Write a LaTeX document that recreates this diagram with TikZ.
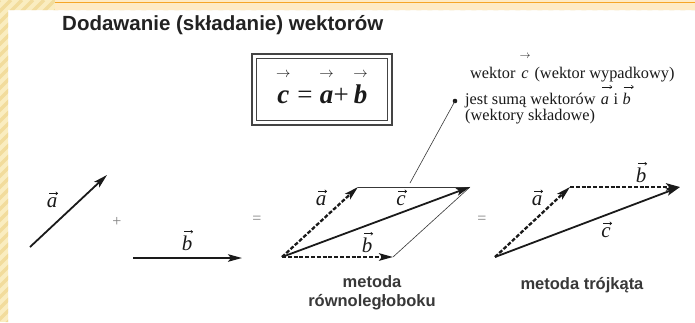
\documentclass[tikz,border=0pt]{standalone}
\usepackage{amsmath}
\usepackage{fontspec}
\setmainfont{Liberation Serif}
\newfontfamily\sansfam{Liberation Sans}
\usetikzlibrary{arrows.meta}
\definecolor{bgyel}{HTML}{FAEDC0}
\definecolor{stripecol}{HTML}{F2DC9C}
\definecolor{topband}{HTML}{FEEBC6}
\definecolor{orangeline}{HTML}{F6A628}
\definecolor{ink}{HTML}{1A1A1A}
\definecolor{framecol}{HTML}{444444}
\definecolor{titlecol}{HTML}{222222}
\definecolor{capcol}{HTML}{383838}
\definecolor{signcol}{HTML}{808080}
\newcommand\ovec[3]{\ensuremath{\overset{\raisebox{#2}{$#3\rightarrow$}}{\vphantom{\mbox{b}}\mbox{#1}}}}
\tikzset{
  vecline/.style={ink, line width=1.8pt, -{Stealth[length=14pt,width=7.5pt,inset=3pt]}},
  dashvec/.style={vecline, line width=2.3pt, dash pattern=on 4pt off 1.8pt},
  thinline/.style={draw=capcol, line width=0.6pt},
  veclabel/.style={inner sep=0pt, anchor=base, text=ink, font=\fontsize{21}{24}\selectfont\itshape},
  labarrow/.style={draw=ink, line width=0.6pt, -{To[length=2.4pt,width=3.6pt]}},
  txtarrow/.style={draw=ink, line width=0.55pt, -{To[length=2.6pt,width=4pt]}},
  signlabel/.style={inner sep=0pt, text=signcol, font=\fontsize{16}{18}\selectfont},
  caption/.style={inner sep=0pt, text=capcol, font=\sansfam\bfseries\fontsize{16.5}{19}\selectfont},
  blocktext/.style={inner sep=0pt, anchor=base west, text=ink, font=\fontsize{16.3}{18}\selectfont}
}
% vector label: name, position of baseline, letter
\newcommand\labvec[3]{%
  \node[veclabel] (#1) at (#2) {#3};
  \draw[labarrow] ([xshift=-3pt,yshift=3.5pt]#1.north) -- ([xshift=6pt,yshift=3.5pt]#1.north);}
\begin{document}
\begin{tikzpicture}[x=1pt,y=-1pt]
\useasboundingbox (0,0) rectangle (695,322);
% background frame
\fill[white] (0,0) rectangle (695,322);
\begin{scope}
  \clip (0,0) rectangle (8,322) (0,0) rectangle (695,10);
  \fill[bgyel] (0,0) rectangle (695,322);
  \foreach \i in {0,11,...,1050} \draw[stripecol, line width=3.5pt] (\i,0) -- (\i-340,340);
  \fill[topband] (55,0) rectangle (695,10);
\end{scope}
\draw[orangeline, line width=1.6pt] (55,2.5) -- (695,2.5);

% title
\node[anchor=base west, inner sep=0pt, text=titlecol, font=\sansfam\bfseries\fontsize{20.5}{24}\selectfont] (title) at (62,30) {Dodawanie (składanie) wektorów};

% formula box
\draw[framecol, line width=1.4pt] (252,54) rectangle (392,125);
\draw[framecol, line width=0.8pt] (256.5,58.5) rectangle (387.5,120.5);
\node[anchor=base, inner sep=0pt, text=ink, font=\fontsize{27}{30}\selectfont] (formula) at (322,103)
  {\ovec{\bfseries\itshape c}{2pt}{\scriptscriptstyle} = \ovec{\bfseries\itshape a}{2pt}{\scriptscriptstyle}+\,\ovec{\bfseries\itshape b}{2pt}{\scriptscriptstyle}};

% explanatory text
\node[blocktext] (line1) at (470,78.5) {wektor \ovec{\itshape c}{5pt}{\scriptstyle} (wektor wypadkowy)};
\node[blocktext] (line2) at (465,104.5) {jest sumą wektorów};
\node[blocktext] (l2a) at ([xshift=5pt]line2.base east) {\itshape a};
\node[blocktext] (l2i) at ([xshift=4.1pt]l2a.base east) {i};
\node[blocktext] (l2b) at ([xshift=4.1pt]l2i.base east) {\itshape b};
\draw[txtarrow] ([xshift=-3pt,yshift=17.5pt]l2a.base) -- ([xshift=7pt,yshift=17.5pt]l2a.base);
\draw[txtarrow] ([xshift=-3pt,yshift=17.5pt]l2b.base) -- ([xshift=7pt,yshift=17.5pt]l2b.base);
\node[blocktext] (line3) at (465,120.5) {(wektory składowe)};
\fill[ink] (455,101) circle (2.3pt);
\coordinate (dot) at (455,101);
\coordinate (leadend) at (410,183);
\draw[thinline] (dot) -- (leadend);

% standalone vectors
\coordinate (a0) at (30,247);
\coordinate (a1) at (107,175);
\coordinate (b0) at (133,258);
\coordinate (b1) at (242,258);
\draw[vecline] (a0) -- (a1);
\draw[vecline] (b0) -- (b1);
\labvec{la}{52,207}{a}
\labvec{lb}{187,250}{b}
\node[signlabel] (plus) at (117,222) {+};
\node[signlabel] (eq1) at (257,220) {=};

% parallelogram method
\coordinate (pO) at (282,257);
\coordinate (pA) at (358,187);
\coordinate (pC) at (470,187);
\coordinate (pB) at (393,257);
\draw[thinline] (pA) -- (pC);
\draw[thinline] (pB) -- (pC);
\draw[vecline] (pO) -- (pC);
\draw[dashvec] (pO) -- (pA);
\draw[dashvec] (pO) -- (pB);
\labvec{pla}{321,205}{a}
\labvec{plc}{401,205}{c}
\labvec{plb}{367,252}{b}
\node[caption] (cap1) at (372,282) {metoda};
\node[caption] (cap2) at (372,302) {równoległoboku};
\node[signlabel] (eq2) at (482,220) {=};

% triangle method
\coordinate (tO) at (495,257);
\coordinate (tA) at (570,187);
\coordinate (tC) at (680,187);
\draw[vecline] (tO) -- (tC);
\draw[dashvec] (tO) -- (tA);
\draw[dashvec] (tA) -- (tC);
\labvec{tla}{537,205}{a}
\labvec{tlb}{641,182}{b}
\labvec{tlc}{606,237}{c}
\node[caption] (cap3) at (582,285) {metoda trójkąta};
\end{tikzpicture}
\end{document}
